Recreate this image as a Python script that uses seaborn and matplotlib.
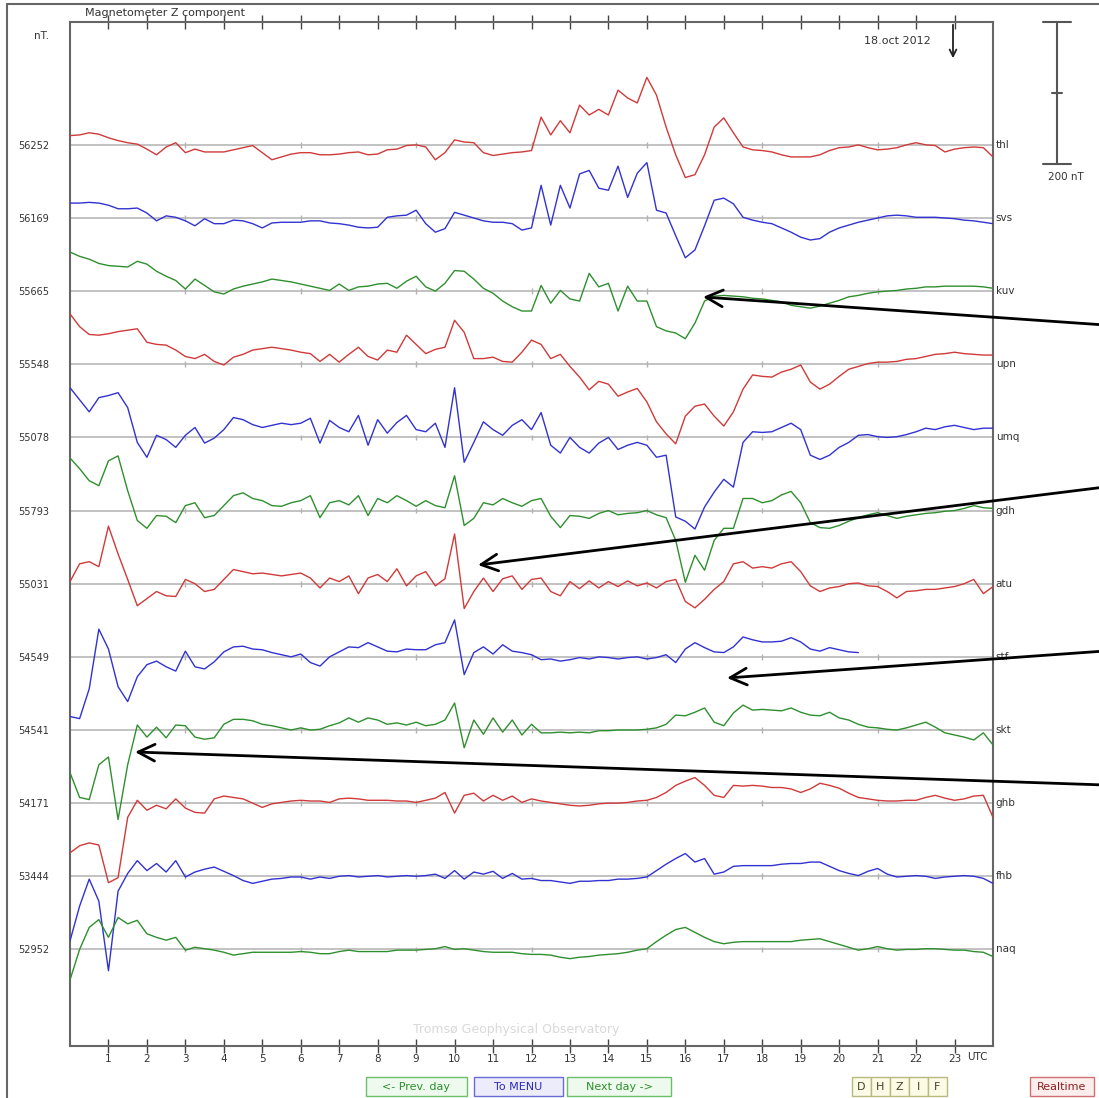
import numpy as np
import pandas as pd
import matplotlib
matplotlib.use("Agg")
import matplotlib.pyplot as plt
import seaborn as sns
from matplotlib.patches import Rectangle

# ---------------- data (deviation from baseline, nT, every 15 min) ----------------
STATIONS = ["thl", "svs", "kuv", "upn", "umq", "gdh", "atu", "stf", "skt", "ghb", "fhb", "naq"]
BASE_LABELS = ["56252", "56169", "55665", "55548", "55078", "55793",
               "55031", "54549", "54541", "54171", "53444", "52952"]
HOUR_LABELS = [str(h) for h in range(1, 24)]
STEP_H = 0.25

thl = [13, 14, 17, 15, 10, 6, 3, 1, -6, -14, -3, 3, -11, -6, -10, -10,
       -10, -7, -4, -1, -11, -21, -17, -13, -11, -11, -14, -14, -13, -11, -10, -14,
       -13, -7, -6, -1, 0, -3, -21, -11, 7, 4, 3, -11, -15, -13, -11, -10,
       -8, 39, 14, 34, 17, 56, 42, 50, 42, 77, 66, 59, 95, 70, 25, -14,
       -46, -42, -14, 25, 38, 17, -3, -7, -8, -10, -14, -17, -17, -17, -14, -8,
       -4, -3, 0, -4, -7, -6, -4, 0, 3, 0, -1, -10, -6, -4, -3, -4, -17]
svs = [21, 21, 22, 21, 18, 13, 13, 14, 7, -4, 3, 1, -4, -11, -1, -8,
       -8, -3, -4, -8, -14, -7, -6, -6, -6, -4, -4, -7, -8, -10, -13, -14,
       -13, 1, 3, 4, 11, -8, -20, -15, 8, 4, 0, -4, -6, -6, -8, -17,
       -14, 46, -10, 46, 14, 62, 67, 42, 39, 73, 29, 63, 78, 11, 7, -25,
       -56, -45, -11, 25, 28, 20, 1, -3, -6, -8, -14, -20, -27, -31, -29, -20,
       -14, -10, -6, -3, 0, 3, 4, 3, 1, 1, 1, 0, -1, -3, -4, -6, -8]
kuv = [55, 49, 45, 39, 36, 35, 34, 42, 38, 28, 21, 15, 3, 17, 8, -1,
       -4, 3, 7, 10, 13, 17, 15, 13, 10, 7, 4, 1, 10, 1, 6, 7,
       10, 11, 4, 14, 21, 6, 0, 11, 29, 28, 17, 4, -3, -14, -22, -28,
       -28, 8, -17, 1, -11, -14, 25, 6, 11, -28, 7, -14, -14, -50, -56, -59,
       -67, -45, -14, -7, -6, -7, -8, -10, -11, -13, -15, -20, -22, -24, -21, -17,
       -13, -8, -6, -3, -1, 0, 1, 3, 4, 6, 6, 7, 7, 7, 7, 6, 4]
upn = [71, 53, 42, 41, 43, 46, 48, 50, 31, 28, 27, 20, 11, 8, 14, 4,
       -1, 10, 14, 20, 22, 24, 22, 20, 17, 15, 4, 14, 3, 14, 24, 11,
       6, 20, 17, 41, 28, 15, 21, 24, 62, 45, 8, 8, 10, 4, 3, 17,
       34, 28, 8, 14, -3, -18, -36, -24, -28, -45, -39, -34, -53, -81, -98, -112,
       -73, -59, -56, -73, -87, -67, -35, -15, -17, -18, -11, -7, -1, -25, -35, -28,
       -17, -7, -3, 1, 3, 3, 4, 7, 8, 11, 14, 15, 17, 15, 14, 13, 13]
umq = [70, 53, 36, 56, 59, 63, 42, -7, -28, 3, -3, -14, 3, 14, -8, -1,
       11, 28, 25, 18, 14, 17, 20, 18, 20, 27, -8, 24, 14, 8, 31, -11,
       25, 6, 21, 31, 11, 8, 20, -14, 70, -35, -7, 22, 11, 3, 17, 25,
       11, 35, -11, -22, 0, -14, -22, -8, 0, -17, -11, -7, -11, -28, -25, -112,
       -118, -129, -98, -77, -59, -70, -7, 8, 7, 8, 14, 20, 11, -25, -31, -25,
       -14, -7, 3, 4, 1, 0, 1, 4, 8, 13, 11, 15, 17, 14, 11, 13, 13]
gdh = [74, 59, 42, 35, 70, 77, 28, -14, -25, -7, -8, -17, 7, 11, -10, -7,
       7, 21, 25, 17, 14, 7, 6, 11, 14, 21, -10, 11, 14, 8, 21, -7,
       17, 11, 21, 14, 6, 14, 7, 4, 49, -21, -11, 11, 8, 17, 11, 6,
       14, 17, -8, -24, -7, -8, -11, -4, 0, -6, -4, -3, 0, -6, -10, -42,
       -101, -63, -84, -42, -25, -25, 17, 17, 11, 14, 22, 27, 11, -17, -24, -25,
       -21, -15, -10, -6, -3, -7, -11, -8, -6, -4, -3, -1, 0, 3, 7, 4, 3]
atu = [3, 28, 31, 24, 81, 42, 6, -31, -21, -11, -17, -18, 6, 0, -11, -8,
       6, 20, 17, 14, 15, 13, 11, 13, 15, 8, -6, 8, 3, 11, -14, 8,
       13, 3, 21, -3, 11, 17, -3, 7, 70, -35, -11, 8, -11, 7, 11, -8,
       6, 8, -11, -17, 3, -7, 4, -6, 3, -4, 4, -3, 1, -6, 3, 6,
       -25, -34, -22, -8, 3, 28, 31, 22, 24, 22, 28, 31, 17, -3, -11, -6,
       -4, 0, 1, -3, -4, -11, -20, -11, -10, -8, -8, -6, -4, 0, 6, -14, -4]
stf = [-84, -87, -45, 39, 11, -42, -63, -28, -11, -6, -14, -20, 8, -14, -17, -7,
       7, 14, 15, 11, 10, 6, 3, 0, 4, -8, -13, 0, 7, 14, 13, 20,
       14, 8, 7, 11, 10, 10, 17, 20, 52, -25, 6, 14, 4, 17, 8, 6,
       3, -4, -3, -6, -4, -1, -3, 0, -1, -3, -1, 0, -3, -1, 3, -8,
       11, 20, 13, 7, 6, 14, 28, 24, 21, 21, 22, 27, 21, 11, 8, 13,
       10, 7, 6]
skt = [-60, -95, -98, -49, -38, -126, -49, 7, -10, 4, -11, 7, 6, -10, -13, -11,
       8, 15, 15, 13, 8, 6, 3, 0, 3, 0, 1, 6, 10, 17, 11, 17,
       14, 8, 10, 7, 11, 6, 8, 14, 38, -25, 14, -6, 17, -3, 14, -7,
       8, -4, -4, -3, -4, -3, -4, -1, -1, 0, 0, 0, 1, 3, 8, 21,
       20, 25, 31, 11, 6, 24, 35, 28, 29, 28, 27, 31, 25, 21, 20, 25,
       17, 14, 8, 4, 3, 1, 0, 3, 7, 11, 4, -4, -7, -10, -14, -4, -21]
ghb = [-70, -60, -56, -59, -112, -105, -20, 4, -10, -3, -8, 6, -7, -13, -14, 6,
       10, 8, 6, 0, -6, -1, 1, 3, 4, 3, 3, 1, 6, 7, 6, 4,
       4, 4, 3, 3, 1, 4, 7, 15, -14, 11, 14, 3, 11, 4, 10, 1,
       6, 3, 1, -1, -3, -4, -3, -1, 0, 0, 1, 3, 4, 8, 15, 25,
       31, 36, 25, 11, 8, 25, 24, 25, 24, 22, 22, 20, 15, 20, 28, 25,
       21, 14, 8, 6, 4, 3, 3, 4, 4, 8, 11, 7, 4, 6, 10, 11, -20]
fhb = [-91, -42, -4, -35, -133, -21, 4, 22, 8, 18, 6, 22, -1, 6, 10, 13,
       7, 1, -6, -10, -7, -4, -3, -1, -1, -4, -1, -3, 0, 1, -1, 0,
       1, -1, 0, 1, 0, 1, 3, -3, 8, -4, 6, 3, 7, -3, 4, -4,
       -3, -6, -6, -8, -10, -7, -7, -6, -6, -4, -4, -3, -1, 8, 17, 25,
       32, 20, 25, 3, 6, 14, 15, 15, 15, 15, 17, 18, 18, 20, 20, 14,
       8, 4, 1, 7, 11, 3, -1, 0, 1, 0, -3, -1, 0, 1, 0, -3, -10]
naq = [-43, 0, 31, 42, 17, 45, 36, 41, 22, 17, 13, 17, -1, 3, 1, -1,
       -4, -8, -6, -4, -4, -4, -4, -4, -3, -4, -6, -6, -3, -1, -3, -3,
       -3, -3, -1, -1, -1, 0, 1, 4, 0, 1, -1, -3, -4, -4, -4, -6,
       -7, -7, -8, -11, -13, -11, -10, -8, -7, -6, -4, -1, 1, 11, 20, 28,
       31, 24, 17, 11, 8, 10, 11, 11, 11, 11, 11, 11, 13, 14, 15, 11,
       7, 3, -1, 1, 4, 1, -1, 0, 0, 1, 1, 0, -1, -1, -3, -4, -10]

SERIES = [thl, svs, kuv, upn, umq, gdh, atu, stf, skt, ghb, fhb, naq]

# ---------------- styling / layout ----------------
RED, BLUE, GREEN = "#d03a3a", "#3232d2", "#2f8f2f"
COLORS = [RED, BLUE, GREEN] * 4
SPACING = 103.0               # nT between station baselines
Y_TOP, Y_BOT = 173.0, -1269.0  # nT
W, H = 1099, 1098

sns.set_style("white")
plt.rcParams["font.family"] = ["DejaVu Sans"]

offsets = {s: -k * SPACING for k, s in enumerate(STATIONS)}
frames = []
for name, vals in zip(STATIONS, SERIES):
    frames.append(pd.DataFrame({"hour": np.arange(len(vals)) * STEP_H,
                                "dev": vals, "station": name}))
df = pd.concat(frames, ignore_index=True)
df["y"] = df["dev"] + df["station"].map(offsets)

fig = plt.figure(figsize=(W / 100, H / 100), dpi=100)
fig.patch.set_facecolor("white")
ax = fig.add_axes([70 / W, (H - 1046) / H, (993 - 70) / W, (1046 - 22) / H])

# baselines with small 3-hour marks
for s in STATIONS:
    b = offsets[s]
    ax.axhline(b, color="#b2b2b2", lw=1.1, zorder=1)
    ax.vlines(np.arange(3, 24, 3), b - 4, b + 4, color="#b2b2b2", lw=1.0, zorder=1)

sns.lineplot(data=df, x="hour", y="y", hue="station", hue_order=STATIONS,
             palette=dict(zip(STATIONS, COLORS)), estimator=None, sort=False,
             legend=False, lw=1.0, ax=ax, zorder=3)

ax.set_xlim(0, 24)
ax.set_ylim(Y_BOT, Y_TOP)
ax.set_xlabel("")
ax.set_ylabel("")
ax.set_xticks(range(1, 24))
ax.set_xticklabels(HOUR_LABELS, fontsize=7.5, color="#333333")
ax.set_yticks([offsets[s] for s in STATIONS])
ax.set_yticklabels(BASE_LABELS, fontsize=7, color="#333333")
ax.tick_params(axis="x", which="both", top=True, bottom=True, direction="inout",
               length=10, width=1.0, color="#444444", pad=1)
ax.tick_params(axis="y", length=0, pad=15)
for sp in ax.spines.values():
    sp.set_visible(True)
    sp.set_color("#666666")
    sp.set_linewidth(1.5)

# station names at right
for s in STATIONS:
    ax.text(1.003, offsets[s], s, transform=ax.get_yaxis_transform(),
            fontsize=7.5, color="#333333", va="center", ha="left")

# ---------------- overlay in image pixel coordinates ----------------
ov = fig.add_axes([0, 0, 1, 1])
ov.set_xlim(0, W)
ov.set_ylim(H, 0)
ov.axis("off")
ov.patch.set_alpha(0)

ov.plot([7, W], [4, 4], color="#666666", lw=1.5)
ov.plot([7, 7], [4, H], color="#666666", lw=1.5)

ov.text(85, 13, "Magnetometer Z component", fontsize=8, color="#333333", va="center", ha="left")
ov.text(34, 36, "nT.", fontsize=7.5, color="#333333", va="center", ha="left")
ov.text(864, 41, "18.oct 2012", fontsize=8, color="#333333", va="center", ha="left")
ov.annotate("", xy=(953, 61), xytext=(953, 22),
            arrowprops=dict(arrowstyle="->", lw=1.3, color="#222222", mutation_scale=12))
ov.text(977, 1057, "UTC", fontsize=7.5, color="#333333", va="center", ha="center")

# scale bar (200 nT)
sb = dict(color="#555555", lw=1.5)
ov.plot([1057, 1057], [22, 164], **sb)
ov.plot([1043, 1071], [22, 22], **sb)
ov.plot([1043, 1071], [164, 164], **sb)
ov.plot([1052, 1062], [93, 93], **sb)
ov.text(1066, 177, "200 nT", fontsize=7.5, color="#333333", va="center", ha="center")

ov.text(516, 1030, "Tromsø Geophysical Observatory", fontsize=9, color="#d9d9d9",
        va="center", ha="center")

# buttons
def button(x0, x1, text, edge, face, tcol):
    ov.add_patch(Rectangle((x0, 1077), x1 - x0, 19, facecolor=face, edgecolor=edge, lw=1.0))
    ov.text((x0 + x1) / 2, 1087, text, fontsize=8, color=tcol, va="center", ha="center")

button(366, 467, "<- Prev. day", "#6cbf6c", "#eefaee", "#2e8f2e")
button(474, 563, "To MENU", "#6b6bd6", "#ececfb", "#2c2cb8")
button(567, 671, "Next day ->", "#6cbf6c", "#eefaee", "#2e8f2e")
for i, ch in enumerate(["D", "H", "Z", "I", "F"]):
    button(852 + i * 19, 871 + i * 19, ch, "#b8b880", "#fbfbe6", "#444422")
button(1030, 1094, "Realtime", "#d07070", "#fdeeee", "#8a2020")

# annotation arrows
for xy, xytext in [((703, 297), (1105, 325)), ((478, 565), (1105, 487)),
                   ((727, 678), (1105, 651)), ((135, 752), (1105, 785))]:
    ov.annotate("", xy=xy, xytext=xytext,
                arrowprops=dict(arrowstyle="->", lw=2.0, color="black",
                                mutation_scale=30, shrinkA=0, shrinkB=0))

fig.savefig("out.png", dpi=100, facecolor="white")
